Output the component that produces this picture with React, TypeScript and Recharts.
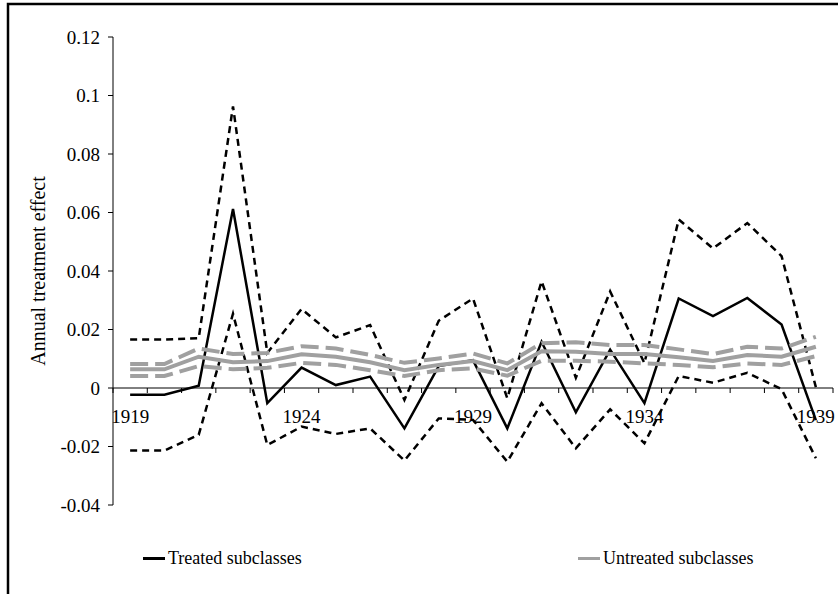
import { LineChart, Line, XAxis, YAxis, ReferenceLine, Legend } from "recharts";

const years = [
  1919, 1920, 1921, 1922, 1923, 1924, 1925, 1926, 1927, 1928, 1929, 1930, 1931,
  1932, 1933, 1934, 1935, 1936, 1937, 1938, 1939,
];

const treatedEst = [
  -0.0023, -0.0023, 0.0008, 0.0612, -0.0052, 0.007, 0.001, 0.0039, -0.0138,
  0.0075, 0.0095, -0.0138, 0.0158, -0.0083, 0.0131, -0.0052, 0.0306, 0.0246,
  0.0308, 0.0217, -0.011,
];
const treatedUpper = [
  0.0166, 0.0166, 0.017, 0.0963, 0.012, 0.027, 0.0173, 0.0215, -0.0041, 0.023,
  0.0306, -0.0035, 0.0365, 0.0035, 0.033, 0.0085, 0.0576, 0.0477, 0.0564,
  0.0451, 0.0003,
];
const treatedLower = [
  -0.0214, -0.0214, -0.016, 0.0254, -0.0195, -0.0132, -0.0157, -0.0138,
  -0.0248, -0.0104, -0.0109, -0.0252, -0.0052, -0.0206, -0.0073, -0.0189,
  0.0041, 0.0018, 0.0052, -0.0004, -0.024,
];
const untreatedEst = [
  0.0064, 0.0064, 0.0107, 0.0088, 0.0092, 0.0115, 0.0107, 0.0088, 0.0061,
  0.0079, 0.0092, 0.0061, 0.0126, 0.0124, 0.0116, 0.0116, 0.0105, 0.0092,
  0.0113, 0.0107, 0.0141,
];
const untreatedUpper = [
  0.0082, 0.0082, 0.0135, 0.0116, 0.012, 0.0143, 0.0135, 0.0113, 0.0086,
  0.0101, 0.0118, 0.0084, 0.0153, 0.0156, 0.0147, 0.0147, 0.0132, 0.0116,
  0.0141, 0.0135, 0.0175,
];
const untreatedLower = [
  0.0041, 0.0041, 0.0075, 0.0064, 0.0069, 0.0086, 0.0079, 0.0061, 0.0041,
  0.0061, 0.0067, 0.0042, 0.0093, 0.0093, 0.009, 0.0084, 0.0079, 0.0071,
  0.0084, 0.0079, 0.0109,
];

const yearLabels = [1919, 1924, 1929, 1934, 1939];
const yTicks = [-0.04, -0.02, 0, 0.02, 0.04, 0.06, 0.08, 0.1, 0.12];
const legendItems = [
  { name: "Treated subclasses", color: "#000000" },
  { name: "Untreated subclasses", color: "#a0a0a0" },
];

const data = years.map((year, i) => ({
  year,
  tEst: treatedEst[i],
  tUp: treatedUpper[i],
  tLo: treatedLower[i],
  uEst: untreatedEst[i],
  uUp: untreatedUpper[i],
  uLo: untreatedLower[i],
}));

// x axis ticks: marks between years, labels every 5 years
const xTicks: number[] = [];
for (let i = 0; i <= years.length; i++) {
  xTicks.push(years[0] - 0.5 + i);
  if (i < years.length && yearLabels.includes(years[i])) xTicks.push(years[i]);
}

const W = 838;
const H = 594;
const TOP = 37;
const PLOT_H = 468;
const Y_MIN = -0.04;
const Y_MAX = 0.12;
const zeroY = TOP + (PLOT_H * Y_MAX) / (Y_MAX - Y_MIN);

const FONT = '"Liberation Serif", serif';

const XTick = (props: any) => {
  const { x, payload } = props;
  const v = payload.value as number;
  if (Math.abs(v % 1) > 0.1) {
    return <line x1={x} x2={x} y1={zeroY} y2={zeroY + 5} stroke="#000" strokeWidth={1} />;
  }
  return (
    <text x={x} y={zeroY + 35} textAnchor="middle" fontSize={19} fontFamily={FONT} fill="#000">
      {v}
    </text>
  );
};

const LegendContent = () => (
  <div style={{ position: "relative", width: W, height: 24, fontFamily: FONT, fontSize: 18, color: "#000" }}>
    {legendItems.map((it, i) => (
      <div
        key={it.name}
        style={{ position: "absolute", left: i === 0 ? 143 : 578, top: 0, display: "flex", alignItems: "center", lineHeight: "22px" }}
      >
        <span style={{ display: "inline-block", width: 22, height: 3, background: it.color, marginRight: 3 }} />
        <span>{it.name}</span>
      </div>
    ))}
  </div>
);

export default function App() {
  return (
    <div style={{ position: "fixed", left: 0, top: 0, width: W, height: H, overflow: "hidden", background: "#fff" }}>
      <LineChart width={W} height={H} data={data} margin={{ top: TOP, right: 5, bottom: 69, left: 0 }}>
        <XAxis
          dataKey="year"
          type="number"
          domain={[years[0] - 0.5, years[years.length - 1] + 0.5]}
          ticks={xTicks}
          interval={0}
          axisLine={false}
          tickLine={false}
          tick={<XTick />}
          height={20}
        />
        <YAxis
          domain={[Y_MIN, Y_MAX]}
          ticks={yTicks}
          interval={0}
          width={113}
          axisLine={{ stroke: "#000" }}
          tickLine={{ stroke: "#000" }}
          tickSize={5}
          tickMargin={8}
          tickFormatter={(v: number) => String(Math.round(v * 100) / 100)}
          tick={{ fill: "#000", fontSize: 19, fontFamily: FONT }}
          label={{
            value: "Annual treatment effect",
            angle: -90,
            position: "insideLeft",
            dx: 33,
            style: { textAnchor: "middle", fill: "#000", fontSize: 20, fontFamily: FONT },
          }}
        />
        <ReferenceLine y={0} stroke="#000" strokeWidth={1} />
        <Legend verticalAlign="middle" layout="horizontal" content={<LegendContent />} wrapperStyle={{ top: 547, left: 0, width: W }} />
        <Line dataKey="tUp" stroke="#000" strokeWidth={2.5} strokeDasharray="7 5" dot={false} isAnimationActive={false} legendType="none" />
        <Line dataKey="tLo" stroke="#000" strokeWidth={2.5} strokeDasharray="7 5" dot={false} isAnimationActive={false} legendType="none" />
        <Line dataKey="tEst" name="Treated subclasses" stroke="#000" strokeWidth={2.5} dot={false} isAnimationActive={false} />
        <Line dataKey="uUp" stroke="#a0a0a0" strokeWidth={4} strokeDasharray="18 7" dot={false} isAnimationActive={false} legendType="none" />
        <Line dataKey="uLo" stroke="#a0a0a0" strokeWidth={4} strokeDasharray="18 7" dot={false} isAnimationActive={false} legendType="none" />
        <Line dataKey="uEst" name="Untreated subclasses" stroke="#a0a0a0" strokeWidth={4} dot={false} isAnimationActive={false} />
      </LineChart>
      <svg width={W} height={H} style={{ position: "absolute", left: 0, top: 0, pointerEvents: "none" }}>
        <path d={`M8 ${H} V4 H${W}`} fill="none" stroke="#000" strokeWidth={2.5} />
      </svg>
    </div>
  );
}
